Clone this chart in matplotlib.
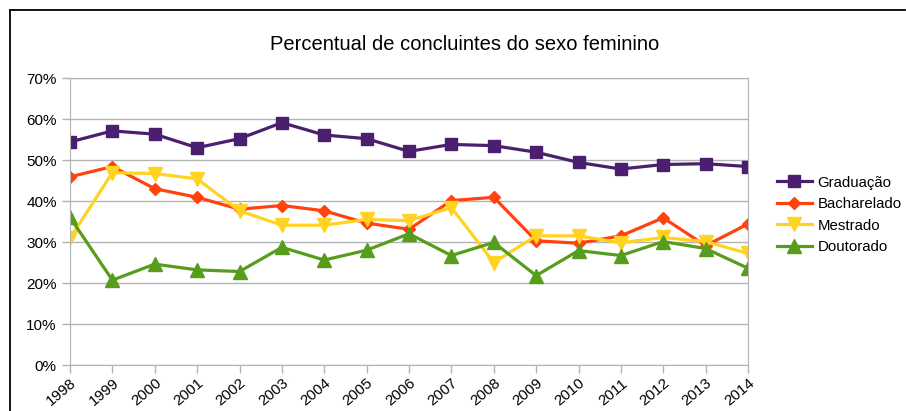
import matplotlib
matplotlib.use("Agg")
import matplotlib.pyplot as plt
from matplotlib.lines import Line2D
from matplotlib.ticker import FuncFormatter

plt.rcParams['font.family'] = ['Liberation Sans', 'DejaVu Sans']

years = [str(y) for y in range(1998, 2015)]
graduacao = [54.4, 57.1, 56.3, 53.0, 55.2, 59.1, 56.1, 55.2, 52.1, 53.8, 53.5, 51.9, 49.4, 47.8, 48.9, 49.1, 48.4]
bacharelado = [45.9, 48.4, 43.0, 40.9, 38.0, 38.9, 37.6, 34.6, 33.1, 40.1, 40.9, 30.3, 29.7, 31.5, 35.9, 29.1, 34.4]
mestrado = [30.9, 46.9, 46.7, 45.4, 37.6, 34.1, 34.1, 35.5, 35.2, 38.4, 25.0, 31.5, 31.5, 29.8, 31.1, 30.1, 27.2]
doutorado = [36.0, 20.7, 24.6, 23.2, 22.8, 28.7, 25.6, 28.0, 32.0, 26.7, 29.9, 21.8, 27.9, 26.7, 30.1, 28.4, 23.6]

series = [
    ("Graduação", graduacao, "#4b1f6f", "s", 9),
    ("Bacharelado", bacharelado, "#ff420e", "D", 6.5),
    ("Mestrado", mestrado, "#ffd320", "v", 9.5),
    ("Doutorado", doutorado, "#579d1c", "^", 9.5),
]

fig = plt.figure(figsize=(9.06, 4.11), dpi=100)
ax = fig.add_axes([70/906, 1-365/411, (748-70)/906, (365-78)/411])

x = list(range(len(years)))
for name, vals, col, mk, ms in series:
    ax.plot(x, vals, color=col, lw=2.3, marker=mk, markersize=ms, label=name)

ax.set_xlim(0, len(years)-1)
ax.set_ylim(0, 70)
ax.set_yticks(range(0, 71, 10))
ax.yaxis.set_major_formatter(FuncFormatter(lambda v, p: f"{int(v)}%"))
ax.set_xticks(x)
ax.set_xticklabels(years, rotation=40, ha='right', rotation_mode='anchor')
ax.grid(axis='y', color='#b3b3b3', lw=1)
ax.set_axisbelow(True)
for s in ax.spines.values():
    s.set_color('#b3b3b3')
ax.tick_params(axis='both', colors='#b3b3b3', labelcolor='black', labelsize=11, length=6, width=1)
ax.tick_params(axis='x', pad=2)

fig.text(465/906, 1-45/411, "Percentual de concluintes do sexo feminino", ha='center', va='center', fontsize=14.5)

leg = fig.legend(loc='center left', bbox_to_anchor=(777/906, 1-215/411), frameon=False,
                 fontsize=10.8, handlelength=2.3, handletextpad=0.4, labelspacing=0.5, borderpad=0,
                 borderaxespad=0)

fig.add_artist(Line2D([10/906, 10/906], [0, 1-10/411], color='black', lw=1.3, transform=fig.transFigure))
fig.add_artist(Line2D([10/906, 905/906], [1-10/411, 1-10/411], color='black', lw=1.3, transform=fig.transFigure))

fig.savefig("out.png", dpi=100, facecolor='white')
